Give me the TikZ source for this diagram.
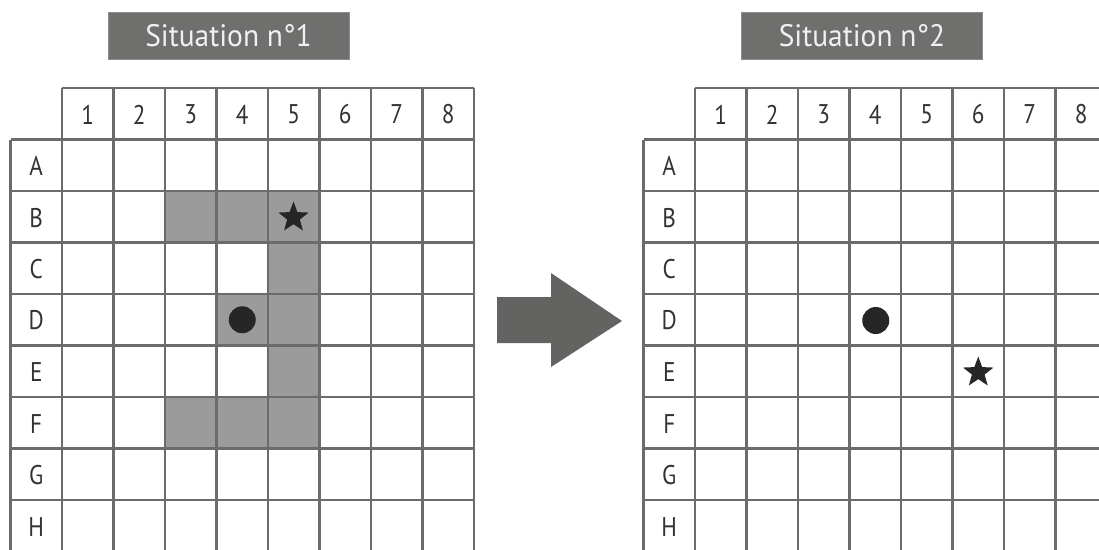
\documentclass[tikz,border=0pt]{standalone}
\usepackage{fontspec}
\setmainfont{PT Sans}
\newfontfamily\narrowf[FakeStretch=0.86]{PT Sans}
\newfontfamily\titlef[FakeStretch=0.95]{PT Sans}
\usetikzlibrary{shapes.geometric}
\definecolor{gridline}{HTML}{6B6B6B}
\definecolor{shadec}{HTML}{9B9B9B}
\definecolor{titlebg}{HTML}{6F706E}
\definecolor{arrowc}{HTML}{636461}
\definecolor{markc}{HTML}{262626}
\definecolor{labelc}{HTML}{333333}
\tikzset{
  gline/.style={draw=gridline, line width=2.2pt},
  lbl/.style={font=\narrowf\fontsize{27}{27}\selectfont, text=labelc, inner sep=0pt},
  titlebox/.style={fill=titlebg, draw=titlebg!80!white, line width=0.6pt, text=white!94!black,
    minimum width=241pt, minimum height=47pt, inner sep=0pt, font=\titlef\fontsize{31}{31}\selectfont},
  cellshade/.style={fill=shadec},
  starmark/.style={star, star points=5, star point ratio=2.4, fill=markc, minimum size=32pt, inner sep=0pt},
  dotmark/.style={circle, fill=markc, minimum size=27pt, inner sep=0pt},
}
% #1 = prefix, #2 = left x of column 1
\newcommand\mygrid[2]{%
  \def\cw{51.5}%
  \foreach \i in {0,...,8}{
    \pgfmathsetmacro\xx{#2+\i*\cw}
    \draw[gline] (\xx,88) -- (\xx,560);
  }
  \pgfmathsetmacro\xl{#2-\cw}
  \pgfmathsetmacro\xr{#2+8*\cw}
  \draw[gline] (\xl,139.5) -- (\xl,560);
  \draw[gline] (#2,88) -- (\xr,88);
  \foreach \j in {1,...,8}{
    \pgfmathsetmacro\yy{88+\j*\cw}
    \draw[gline] (\xl,\yy) -- (\xr,\yy);
  }
  \foreach \i in {1,...,8}{
    \pgfmathsetmacro\xx{#2+(\i-0.5)*\cw}
    \node[lbl] (#1-c\i) at (\xx,114.5) {\i};
  }
  \foreach \r [count=\j] in {A,B,C,D,E,F,G,H}{
    \pgfmathsetmacro\yy{88+(\j+0.5)*\cw+0.8}
    \pgfmathsetmacro\xc{#2-0.5*\cw}
    \node[lbl] (#1-r\r) at (\xc,\yy) {\r};
  }
}
\begin{document}
\begin{tikzpicture}[x=1pt,y=-1pt]
\useasboundingbox (0,0) rectangle (1099,549);
\clip (0,0) rectangle (1099,549);
\fill[white] (0,0) rectangle (1099,549);
% shaded cells, left grid (col i, row j): x=62+(i-1)*51.5, y=139.5+(j-1)*51.5
\foreach \i/\j in {3/2,4/2,5/2,5/3,4/4,5/4,5/5,3/6,4/6,5/6}{
  \pgfmathsetmacro\xa{62+(\i-1)*51.5}
  \pgfmathsetmacro\ya{139.5+(\j-1)*51.5}
  \fill[cellshade] (\xa,\ya) rectangle ++(51.5,51.5);
}
\mygrid{L}{62}
\mygrid{R}{695}
% titles
\node[titlebox] (title1) at (228.5,35.5) {Situation n°1};
\node[titlebox] (title2) at (862,35.5) {Situation n°2};
% markers
\node[starmark] (star1) at (293.5,217.5) {};
\node[dotmark] (dot1) at (242.25,319.75) {};
\node[dotmark] (dot2) at (875.75,320.5) {};
\node[starmark] (star2) at (978.25,372.5) {};
% arrow
\fill[arrowc] (497,297) -- (551,297) -- (551,273) -- (622,321) -- (551,367) -- (551,343) -- (497,343) -- cycle;
\end{tikzpicture}
\end{document}
